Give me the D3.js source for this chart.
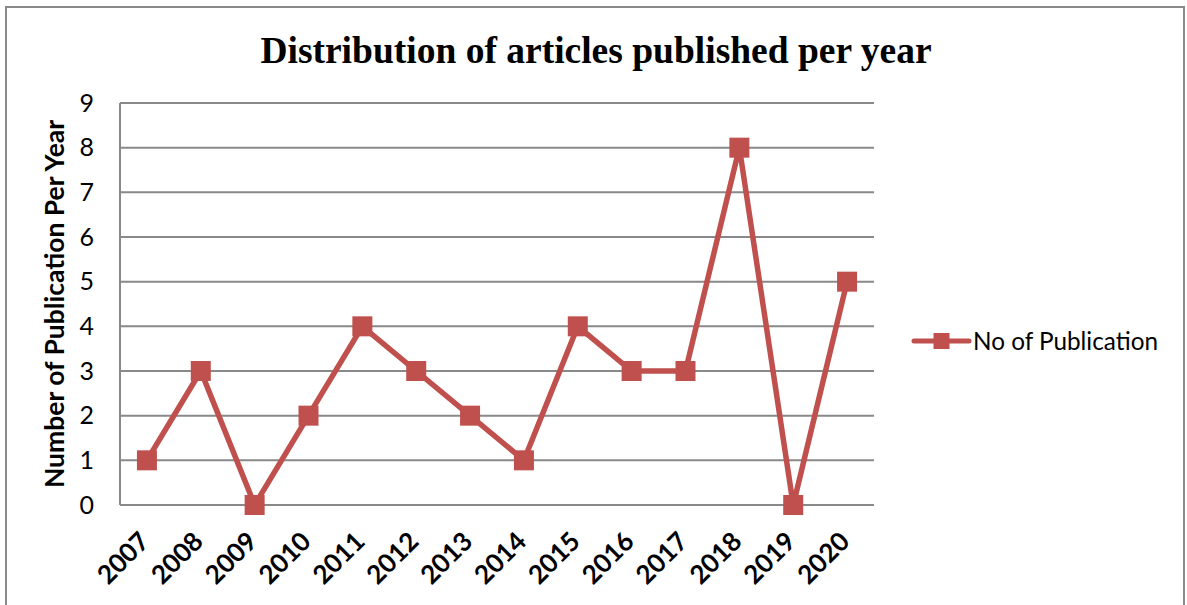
<!DOCTYPE html>
<html>
<head>
<meta charset="utf-8">
<script src="https://cdn.jsdelivr.net/npm/d3@7"></script>
<style>
  html, body { margin: 0; padding: 0; background: #fff; }
  svg { display: block; }
</style>
</head>
<body>
<svg id="chart" width="1187" height="605"></svg>
<script>
// Articles published per year
const years = ["2007","2008","2009","2010","2011","2012","2013","2014","2015","2016","2017","2018","2019","2020"];
const publications = [1, 3, 0, 2, 4, 3, 2, 1, 4, 3, 3, 8, 0, 5];
const yTicks = [0, 1, 2, 3, 4, 5, 6, 7, 8, 9];
const seriesName = "No of Publication";
const chartTitle = "Distribution of articles published per year";
const yTitle = "Number of Publication Per Year";

const svg = d3.select("#chart");
const lineColor = "#C0504D";
const gridColor = "#898989";
const sansFont = "Lato, 'Open Sans', 'DejaVu Sans', sans-serif";

// outer chart frame
svg.append("rect")
  .attr("x", 6).attr("y", 7)
  .attr("width", 1178).attr("height", 610)
  .attr("fill", "#fff")
  .attr("stroke", "#8a8a8a").attr("stroke-width", 2);

const plot = { left: 120, right: 874, top: 103, bottom: 505 };

const x = d3.scaleBand().domain(years).range([plot.left, plot.right]);
const y = d3.scaleLinear().domain([0, 9]).range([plot.bottom, plot.top]);
const cx = d => x(d) + x.bandwidth() / 2;

// horizontal gridlines
svg.append("g").selectAll("line").data(yTicks).join("line")
  .attr("x1", plot.left).attr("x2", plot.right)
  .attr("y1", d => y(d)).attr("y2", d => y(d))
  .attr("stroke", gridColor).attr("stroke-width", 2);

// y axis line
svg.append("line")
  .attr("x1", plot.left).attr("x2", plot.left)
  .attr("y1", plot.top).attr("y2", plot.bottom)
  .attr("stroke", gridColor).attr("stroke-width", 2);

// y axis tick labels
const yAxis = d3.axisLeft(y).tickValues(yTicks).tickSize(0).tickPadding(26);
const gy = svg.append("g").attr("transform", `translate(${plot.left},0)`).call(yAxis);
gy.select(".domain").remove();
gy.selectAll("text")
  .attr("font-family", sansFont).attr("font-size", 25).attr("fill", "#000");

// x axis tick labels, rotated
const xAxis = d3.axisBottom(x).tickSize(0).tickPadding(0);
const gx = svg.append("g").attr("transform", `translate(0,${plot.bottom})`).call(xAxis);
gx.select(".domain").remove();
gx.selectAll("text")
  .attr("font-family", sansFont).attr("font-size", 26).attr("font-weight", "bold")
  .attr("fill", "#000")
  .attr("text-anchor", "end")
  .attr("dy", 0)
  .attr("transform", "translate(4,38) rotate(-45)");

// series line
const line = d3.line().x((d, i) => cx(years[i])).y(d => y(d));
svg.append("path").datum(publications)
  .attr("d", line)
  .attr("fill", "none")
  .attr("stroke", lineColor).attr("stroke-width", 5.5)
  .attr("stroke-linejoin", "miter");

// square markers
const ms = 20;
svg.append("g").selectAll("rect").data(publications).join("rect")
  .attr("x", (d, i) => cx(years[i]) - ms / 2)
  .attr("y", d => y(d) - ms / 2)
  .attr("width", ms).attr("height", ms)
  .attr("fill", lineColor);

// title
svg.append("text")
  .attr("x", 596).attr("y", 63)
  .attr("text-anchor", "middle")
  .attr("font-family", "'Liberation Serif', 'Times New Roman', serif")
  .attr("font-weight", "bold").attr("font-size", 37.5)
  .attr("fill", "#000")
  .text(chartTitle);

// y axis title
svg.append("text")
  .attr("transform", `translate(64,${(plot.top + plot.bottom) / 2}) rotate(-90)`)
  .attr("text-anchor", "middle")
  .attr("font-family", sansFont)
  .attr("font-weight", "bold").attr("font-size", 26.5)
  .attr("fill", "#000")
  .text(yTitle);

// legend
const lg = svg.append("g").attr("transform", "translate(914,341)");
lg.append("line").attr("x1", 0).attr("x2", 55).attr("y1", 0).attr("y2", 0)
  .attr("stroke", lineColor).attr("stroke-width", 5).attr("stroke-linecap", "round");
lg.append("rect").attr("x", 27.5 - 8).attr("y", -8).attr("width", 16).attr("height", 16)
  .attr("fill", lineColor);
lg.append("text").attr("x", 59).attr("y", 0).attr("dy", "0.35em")
  .attr("font-family", sansFont).attr("font-size", 24.3).attr("fill", "#000")
  .text(seriesName);
</script>
</body>
</html>
